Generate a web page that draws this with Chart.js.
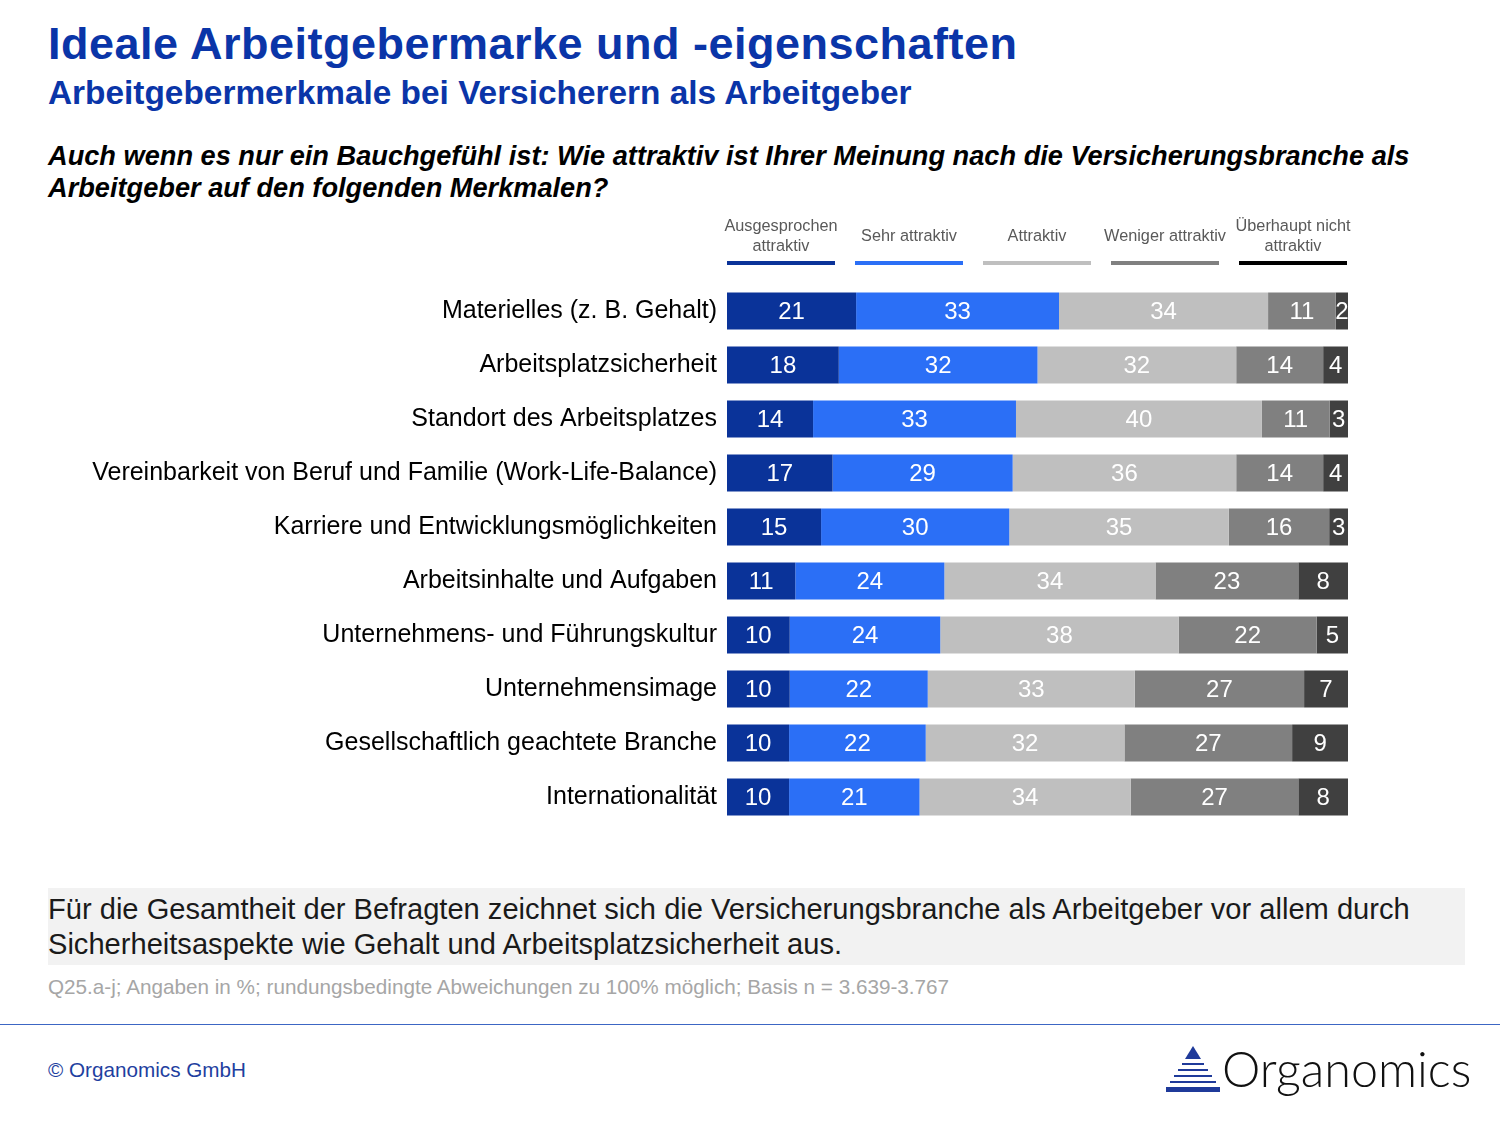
<!DOCTYPE html>
<html>
<head>
<meta charset="utf-8">
<script src="https://cdn.jsdelivr.net/npm/chart.js@4/dist/chart.umd.min.js"></script>
<style>
  html, body { margin:0; padding:0; background:#fff; }
  body { width:1500px; height:1125px; position:relative; overflow:hidden; font-family:"Liberation Sans", Arial, sans-serif; }
  .abs { position:absolute; white-space:nowrap; }
  #title { left:48px; top:18px; font-size:45px; letter-spacing:0.5px; font-weight:bold; color:#0a35a8; }
  #subtitle { left:48px; top:74px; font-size:33.4px; font-weight:bold; color:#0a35a8; }
  #question { left:48px; top:140px; font-size:27.2px; font-weight:bold; font-style:italic; color:#000; line-height:32px; white-space:normal; width:1430px; }
  #chartWrap { position:absolute; left:0; top:200px; width:1500px; height:649px; }
  #box { left:48px; top:888px; width:1417px; height:77px; background:#f2f2f2; }
  #boxText { left:48px; top:892px; font-size:29.1px; color:#1a1a1a; line-height:35px; white-space:normal; width:1415px; }
  #foot { left:48px; top:975px; font-size:20.7px; color:#a6a6a6; }
  #hr { left:0; top:1024px; width:1500px; height:1px; background:#3c66c4; }
  #copy { left:48px; top:1058px; font-size:20.7px; color:#1f3fa0; }
  #logoText { left:1222px; top:1039px; font-size:48.5px; font-family:"Lato","DejaVu Sans",sans-serif; color:#111; font-weight:300; }
  #logo { left:1165px; top:1045px; }
</style>
</head>
<body>
<div class="abs" id="title">Ideale Arbeitgebermarke und -eigenschaften</div>
<div class="abs" id="subtitle">Arbeitgebermerkmale bei Versicherern als Arbeitgeber</div>
<div class="abs" id="question">Auch wenn es nur ein Bauchgefühl ist: Wie attraktiv ist Ihrer Meinung nach die Versicherungsbranche als Arbeitgeber auf den folgenden Merkmalen?</div>
<div id="chartWrap"><canvas id="c" width="1500" height="649"></canvas></div>
<div class="abs" id="box"></div>
<div class="abs" id="boxText">Für die Gesamtheit der Befragten zeichnet sich die Versicherungsbranche als Arbeitgeber vor allem durch Sicherheitsaspekte wie Gehalt und Arbeitsplatzsicherheit aus.</div>
<div class="abs" id="foot">Q25.a-j; Angaben in %; rundungsbedingte Abweichungen zu 100% möglich; Basis n = 3.639-3.767</div>
<div class="abs" id="hr"></div>
<div class="abs" id="copy">© Organomics GmbH</div>
<svg class="abs" id="logo" width="56" height="52" viewBox="0 0 56 52">
  <polygon points="28,1 20,14 36,14" fill="#1f3a9a"/>
  <rect x="17" y="18" width="22" height="2" fill="#1f3a9a"/>
  <rect x="13" y="24" width="30" height="2" fill="#1f3a9a"/>
  <rect x="9" y="30" width="38" height="2" fill="#1f3a9a"/>
  <rect x="5" y="36" width="46" height="2" fill="#1f3a9a"/>
  <rect x="1" y="42" width="54" height="5" fill="#1f3a9a"/>
</svg>
<div class="abs" id="logoText">Organomics</div>

<script>
const categories = [
  "Materielles (z. B. Gehalt)",
  "Arbeitsplatzsicherheit",
  "Standort des Arbeitsplatzes",
  "Vereinbarkeit von Beruf und Familie (Work-Life-Balance)",
  "Karriere und Entwicklungsmöglichkeiten",
  "Arbeitsinhalte und Aufgaben",
  "Unternehmens- und Führungskultur",
  "Unternehmensimage",
  "Gesellschaftlich geachtete Branche",
  "Internationalität"
];
const seriesNames = [
  ["Ausgesprochen", "attraktiv"],
  ["Sehr attraktiv"],
  ["Attraktiv"],
  ["Weniger attraktiv"],
  ["Überhaupt nicht", "attraktiv"]
];
const ausgesprochen = [21, 18, 14, 17, 15, 11, 10, 10, 10, 10];
const sehr          = [33, 32, 33, 29, 30, 24, 24, 22, 22, 21];
const attraktiv     = [34, 32, 40, 36, 35, 34, 38, 33, 32, 34];
const weniger       = [11, 14, 11, 14, 16, 23, 22, 27, 27, 27];
const ueberhaupt    = [ 2,  4,  3,  4,  3,  8,  5,  7,  9,  8];

const barColors = ["#0a3399", "#2b6ff6", "#bfbfbf", "#808080", "#404040"];
const legendColors = ["#0a3399", "#2b6ff6", "#bfbfbf", "#808080", "#000000"];

const raw = [ausgesprochen, sehr, attraktiv, weniger, ueberhaupt];
const rowSums = categories.map((_, i) => raw.reduce((s, arr) => s + arr[i], 0));

const datasets = raw.map((arr, k) => ({
  label: seriesNames[k].join(" "),
  data: arr.map((v, i) => v / rowSums[i] * 100),
  rawValues: arr,
  backgroundColor: barColors[k],
  borderWidth: 0,
  barPercentage: 0.685,
  categoryPercentage: 1.0
}));

const valueLabels = {
  id: "valueLabels",
  afterDatasetsDraw(chart) {
    const ctx = chart.ctx;
    ctx.save();
    ctx.font = "24px 'Liberation Sans', Arial, sans-serif";
    ctx.fillStyle = "#ffffff";
    ctx.textAlign = "center";
    ctx.textBaseline = "middle";
    chart.data.datasets.forEach((ds, k) => {
      const meta = chart.getDatasetMeta(k);
      meta.data.forEach((el, i) => {
        const x = (el.x + el.base) / 2;
        ctx.fillText(String(ds.rawValues[i]), x, el.y + 1);
      });
    });
    ctx.restore();
  }
};

const topLegend = {
  id: "topLegend",
  afterDraw(chart) {
    const ctx = chart.ctx;
    const left = chart.chartArea.left;
    ctx.save();
    ctx.font = "16.3px 'Liberation Sans', Arial, sans-serif";
    ctx.textAlign = "center";
    ctx.textBaseline = "middle";
    seriesNames.forEach((lines, k) => {
      const x0 = left + k * 128;
      const cx = x0 + 54;
      ctx.fillStyle = "#595959";
      if (lines.length === 2) {
        ctx.fillText(lines[0], cx, 27);
        ctx.fillText(lines[1], cx, 47);
      } else {
        ctx.fillText(lines[0], cx, 37);
      }
      ctx.fillStyle = legendColors[k];
      ctx.fillRect(x0, 61, 108, 4);
    });
    ctx.restore();
  }
};

new Chart(document.getElementById("c"), {
  type: "bar",
  data: { labels: categories, datasets: datasets },
  options: {
    indexAxis: "y",
    responsive: false,
    animation: false,
    layout: { padding: { top: 84, bottom: 2, left: 0, right: 152 } },
    plugins: { legend: { display: false }, tooltip: { enabled: false }, title: { display: false } },
    scales: {
      x: { stacked: true, min: 0, max: 100, display: false },
      y: {
        stacked: true,
        grid: { display: false, drawTicks: false },
        border: { display: false },
        ticks: { color: "#000", font: { size: 25, family: "'Liberation Sans', Arial, sans-serif" }, padding: 10 },
        afterFit(scale) { scale.width = 727; }
      }
    }
  },
  plugins: [valueLabels, topLegend]
});
</script>
</body>
</html>
